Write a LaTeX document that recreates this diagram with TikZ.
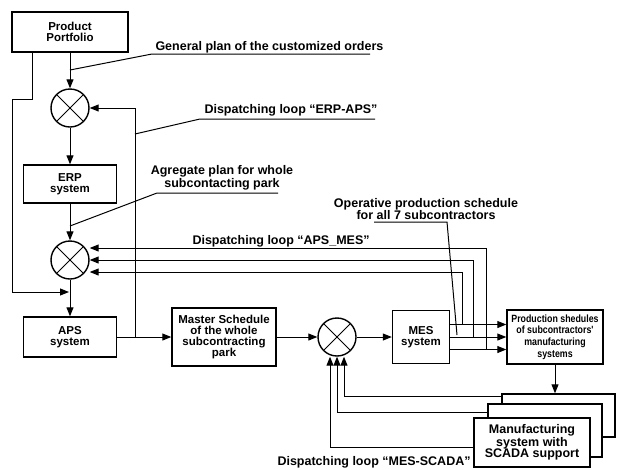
\documentclass[tikz,border=0pt]{standalone}
\usepackage{fontspec}
\setmainfont{Liberation Sans}
\newfontfamily\condfont[FakeStretch=0.84]{Liberation Sans}
\usetikzlibrary{arrows.meta}

\begin{document}
\begin{tikzpicture}
	[
	x=1pt, y=-1pt,
	line width=1pt,
	arr/.style={-{Triangle[length=9pt,width=7pt]}},
	blk/.style={draw, line width=1.4pt, fill=white, align=center, inner sep=0pt,
		font=\bfseries\fontsize{11.5}{11}\selectfont},
	sumn/.style={draw, line width=1.4pt, shape=circle, minimum size=38pt, inner sep=0pt,
		path picture={\draw[line width=1pt]
			(path picture bounding box.north west) -- (path picture bounding box.south east)
			(path picture bounding box.north east) -- (path picture bounding box.south west);}},
	lbl/.style={font=\bfseries\fontsize{12.5}{11.5}\selectfont, inner sep=0pt, align=center}
	]
	
	\useasboundingbox (0,0) rectangle (617,469);
	
	% main chain
	\node[blk, minimum width=116pt, minimum height=40pt](pp) at (70,32){Product\\Portfolio};
	\node[sumn](s1) at (70,108){};
	\node[blk, minimum width=93pt, minimum height=38pt](erp) at (70,184){ERP\\system};
	\node[sumn](s2) at (70,260){};
	\node[blk, minimum width=93pt, minimum height=40pt](aps) at (70,337){APS\\system};
	\node[blk, minimum width=104pt, minimum height=58pt](master) at (224,337){Master Schedule\\of the whole\\subcontracting\\park};
	\node[sumn](s3) at (337,337){};
	\node[blk, minimum width=57pt, minimum height=53pt](mes) at (421,337){MES\\system};
	\node[blk, minimum width=96pt, minimum height=54pt,
		font=\condfont\bfseries\fontsize{10.5}{11.6}\selectfont](prod) at (555,337){Production shedules\\of subcontractors'\\manufacturing\\systems};
	
	% stacked manufacturing systems
	\node[blk, minimum width=113pt, minimum height=43pt](m3) at (558.5,415.5){};
	\node[blk, minimum width=114pt, minimum height=53pt](m2) at (545,430.5){};
	\node[blk, minimum width=116pt, minimum height=49pt,
		font=\bfseries\fontsize{12.5}{11.7}\selectfont](m1) at (532,442.5){Manufacturing\\system with\\SCADA support};
	
	\draw[arr] (pp) -- (s1);
	\draw[arr] (s1) -- (erp);
	\draw[arr] (erp) -- (s2);
	\draw[arr] (s2) -- (aps);
	\draw[arr] (aps) -- (master);
	\draw[arr] (master) -- (s3);
	\draw[arr] (s3) -- (mes);
	
	\coordinate (pj) at (69,292);
	\draw[arr] ([xshift=-38pt]pp.south) -- ++(0,47) -| (12,292) -- (pj);
	
	% loop ERP-APS
	\coordinate (aj) at (135,337);
	\draw[arr] (aj) |- (s1);
	
	% loop APS_MES
	\draw[arr] ([yshift=12.5pt]mes.east) -- ([yshift=12.5pt]prod.west);
	\draw[arr] (mes) -- (prod);
	\draw[arr] ([yshift=-12.5pt]mes.east) -- ([yshift=-12.5pt]prod.west);
	\coordinate (l1) at (462,324);
	\coordinate (l2) at (473,337);
	\coordinate (l3) at (486,349);
	\draw[arr] (l1) |- ([yshift=-12pt]s2.east);
	\draw[arr] (l2) |- (s2.east);
	\draw[arr] (l3) |- ([yshift=12pt]s2.east);
	
	% loop MES-SCADA
	\draw[arr] (prod) -- (prod |- m3.north);
	\draw[arr] ([yshift=-3pt]m3.north west) -| ([xshift=7pt]s3.south);
	\draw[arr] ([yshift=-9pt]m2.north west) -| (s3.south);
	\draw[arr] ([yshift=-30pt]m1.north west) -| ([xshift=-7pt]s3.south);
	
	% labels with leaders
	\node[lbl, anchor=base west](gplan) at (155,50){General plan of the customized orders};
	\coordinate (gp) at (70,70);
	\draw (370,54) -- (152,54) -- (gp);
	
	\node[lbl, anchor=base west](erpaps) at (204,113){Dispatching loop “ERP-APS”};
	\coordinate (ea) at (135,134);
	\draw (375,119) -- (200,119) -- (ea);
	
	\node[lbl](agr) at (222,178){Agregate plan for whole\\subcontacting park};
	\coordinate (ag) at (70,226);
	\draw (278,193) -- (157,193) -- (ag);
	
	\node[lbl, anchor=base west](apsmes) at (192,244){Dispatching loop “APS\_MES”};
	
	\node[lbl](oper) at (426,209){Operative production schedule\\for all 7 subcontractors};
	\coordinate (op) at (457,335);
	\draw (374,222) -- (447,222) -- (op);
	
	\node[lbl, anchor=base west](messcada) at (277,465){Dispatching loop “MES-SCADA”};
\end{tikzpicture}
\end{document}
